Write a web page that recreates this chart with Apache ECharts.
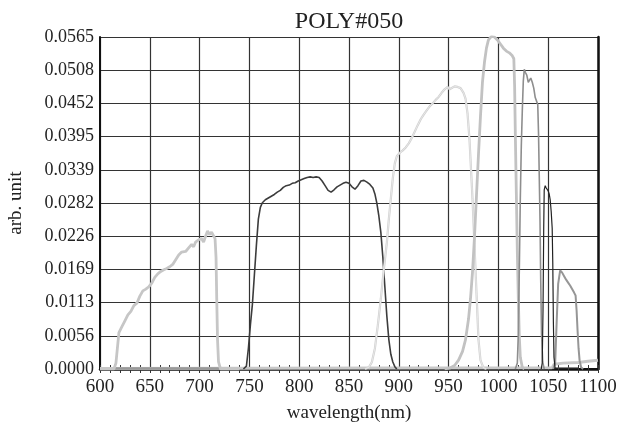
<!DOCTYPE html>
<html>
<head>
<meta charset="utf-8">
<script src="https://cdn.jsdelivr.net/npm/echarts@6/dist/echarts.min.js"></script>
<style>
  html, body { margin: 0; padding: 0; background: #fff; }
  #chart { width: 617px; height: 424px; }
</style>
</head>
<body>
<div id="chart"></div>
<script>
// wavelength (nm) / arb. unit pairs
var filter620 = [[600,0],[614,0],[616,0.001],[618,0.0045],[619,0.0062],[622,0.0072],[625,0.0082],[628,0.0092],[631,0.0098],[634,0.0108],[637,0.0112],[640,0.0124],[643,0.0133],[646,0.0136],[649,0.0140],[652,0.0146],[655,0.0156],[658,0.0162],[661,0.0166],[664,0.0169],[667,0.0171],[670,0.0174],[673,0.0178],[676,0.0186],[679,0.0194],[682,0.0199],[684,0.0196],[686,0.0200],[689,0.0206],[692,0.0212],[694,0.0208],[696,0.0216],[699,0.0220],[702,0.0222],[704,0.0216],[706,0.0226],[708,0.0235],[710,0.0229],[712,0.0233],[714,0.0230],[715.5,0.0222],[716.5,0.0190],[717.2,0.0120],[718,0.0050],[719,0.0012],[721,0],[740,0]]
var filter750 = [[744,0],[747,0.0005],[749,0.0035],[751,0.0075],[753,0.0110],[755,0.0160],[757,0.0210],[759,0.0255],[761,0.0275],[763,0.0283],[766,0.0288],[769,0.0291],[772,0.0294],[775,0.0297],[778,0.0301],[781,0.0304],[784,0.0309],[787,0.0312],[790,0.0313],[793,0.0316],[796,0.0317],[799,0.0320],[802,0.0322],[805,0.0324],[808,0.0326],[811,0.0327],[814,0.0326],[817,0.0327],[820,0.0326],[823,0.0320],[826,0.0312],[829,0.0304],[832,0.0301],[835,0.0305],[838,0.0310],[841,0.0313],[844,0.0316],[847,0.0318],[850,0.0316],[853,0.0310],[856,0.0306],[859,0.0312],[862,0.0320],[865,0.0321],[868,0.0318],[871,0.0314],[874,0.0308],[876,0.0298],[878,0.0282],[880,0.0260],[882,0.0232],[884,0.0190],[886,0.0140],[888,0.0090],[890,0.0050],[892,0.0025],[894,0.0012],[896,0.0004],[898,0]]
var filter880 = [[866,0],[870,0.0003],[873,0.0012],[876,0.0035],[879,0.0075],[882,0.0120],[885,0.0170],[888,0.0215],[890,0.0255],[892,0.0290],[894,0.0325],[896,0.0350],[898,0.0362],[901,0.0368],[904,0.0372],[907,0.0377],[910,0.0384],[913,0.0393],[916,0.0404],[919,0.0415],[922,0.0425],[925,0.0433],[928,0.0440],[931,0.0447],[934,0.0452],[937,0.0458],[940,0.0463],[943,0.0470],[946,0.0476],[949,0.0480],[951,0.0476],[953,0.0479],[956,0.0481],[959,0.0480],[962,0.0478],[965,0.0470],[967,0.0460],[969,0.0435],[971,0.0390],[972.5,0.0340],[974,0.0290],[975.5,0.0230],[977,0.0170],[978.5,0.0110],[980,0.0050],[982,0.0015],[985,0.0002],[988,0]]
var filter990 = [[946,0],[952,0.0002],[956,0.0006],[960,0.0015],[964,0.0030],[967,0.0050],[970,0.0085],[972,0.0120],[974,0.0165],[976,0.0225],[978,0.0295],[980,0.0365],[982,0.0430],[984,0.0488],[986,0.0522],[988,0.0546],[990,0.0560],[993,0.0566],[996,0.0565],[999,0.0560],[1002,0.0553],[1005,0.0546],[1008,0.0541],[1011,0.0538],[1014,0.0533],[1015.5,0.0528],[1016.3,0.0480],[1017,0.0400],[1018,0.0300],[1019,0.0200],[1020,0.0120],[1021,0.0055],[1022,0.0020],[1024,0.0003],[1026,0]]
var filter1030 = [[1017,0],[1019,0.0010],[1020,0.0060],[1021,0.0170],[1022,0.0290],[1023,0.0380],[1024,0.0440],[1025,0.0490],[1026,0.0510],[1027,0.0505],[1028.5,0.0500],[1030,0.0488],[1031,0.0490],[1032.5,0.0495],[1034,0.0488],[1035.5,0.0478],[1037,0.0462],[1038.5,0.0455],[1039.5,0.0450],[1040.3,0.0400],[1041,0.0330],[1041.8,0.0250],[1042.5,0.0150],[1043.3,0.0060],[1044.5,0.0012],[1046,0]]
var filter1050 = [[1043,0],[1044,0.0010],[1044.8,0.0100],[1045.5,0.0240],[1046,0.0305],[1047,0.0312],[1048,0.0308],[1049,0.0310],[1050,0.0303],[1051,0.0298],[1052,0.0288],[1053,0.0268],[1054,0.0240],[1054.6,0.0180],[1055.2,0.0080],[1055.8,0.0020],[1057,0]]
var filter1065 = [[1055,0],[1057,0.0010],[1058.5,0.0080],[1060,0.0145],[1062,0.0168],[1064,0.0164],[1066,0.0158],[1068,0.0152],[1070,0.0147],[1072,0.0142],[1074,0.0136],[1076,0.0130],[1077.5,0.0125],[1078.5,0.0100],[1079.5,0.0065],[1080.5,0.0035],[1081.5,0.0015],[1083,0.0003],[1085,0]]
var baseLight = [[600,0.0001],[1054,0.0002],[1056,0.0008],[1065,0.0010],[1080,0.0011],[1090,0.0013],[1100,0.0015]]
var baseMid = [[615,0.0001],[720,0.0001]]
var baseDark = [[1055,0.0002],[1080,0.0002]]

var yTickLabels = ['0.0000','0.0056','0.0113','0.0169','0.0226','0.0282','0.0339','0.0395','0.0452','0.0508','0.0565']
var yStep = 0.00565

var serif = 'Liberation Serif'
var chart = echarts.init(document.getElementById('chart'))

function curve (data, color, width, z) {
  return {
    type: 'line',
    data: data,
    showSymbol: false,
    silent: true,
    z: z || 2,
    lineStyle: { color: color, width: width }
  }
}

chart.setOption({
  animation: false,
  backgroundColor: '#fff',
  title: {
    text: 'POLY#050',
    left: 344,
    textAlign: 'center',
    top: 5,
    textStyle: { fontFamily: serif, fontSize: 24, fontWeight: 'normal', color: '#222' }
  },
  grid: { left: 100, right: 19, top: 37, bottom: 55, outerBoundsMode: 'none' },
  xAxis: [
    {
      type: 'value',
      min: 600,
      max: 1100,
      interval: 50,
      name: 'wavelength(nm)',
      nameLocation: 'middle',
      nameGap: 35,
      nameTextStyle: { fontFamily: serif, fontSize: 19, color: '#222' },
      axisLine: { show: true, lineStyle: { color: '#111', width: 2 } },
      axisTick: { show: true, inside: true, length: 4, lineStyle: { color: '#333' } },
      minorTick: { show: true, splitNumber: 5, length: 4, lineStyle: { color: '#333', width: 1 } },
      axisLabel: {
        fontFamily: serif, fontSize: 19, color: '#222', margin: 9,
        formatter: function (v) { return String(v) }
      },
      splitLine: { show: true, lineStyle: { color: '#333', width: 1.2 } }
    },
    {
      type: 'value',
      position: 'top',
      min: 600,
      max: 1100,
      interval: 50,
      axisLine: { show: true, lineStyle: { color: '#111', width: 2.5 } },
      axisTick: { show: true, inside: true, length: 4, lineStyle: { color: '#333' } },
      minorTick: { show: true, splitNumber: 5, length: 4, lineStyle: { color: '#333', width: 1 } },
      axisLabel: { show: false },
      splitLine: { show: false }
    }
  ],
  yAxis: [
    {
      type: 'value',
      min: 0,
      max: 0.0565,
      interval: yStep,
      name: 'arb. unit',
      nameLocation: 'middle',
      nameGap: 74,
      nameTextStyle: { fontFamily: serif, fontSize: 19, color: '#222' },
      axisLine: { show: true, lineStyle: { color: '#111', width: 2 } },
      axisTick: { show: false },
      axisLabel: {
        fontFamily: serif,
        fontSize: 18,
        color: '#222',
        margin: 6,
        formatter: function (v) { return yTickLabels[Math.round(v / yStep)] }
      },
      splitLine: { show: true, lineStyle: { color: '#333', width: 1.2 } }
    },
    {
      type: 'value',
      position: 'right',
      min: 0,
      max: 0.0565,
      interval: yStep,
      axisLine: { show: true, lineStyle: { color: '#111', width: 2.5 } },
      axisTick: { show: false },
      axisLabel: { show: false },
      splitLine: { show: false }
    }
  ],
  series: [
    curve(baseMid, '#999', 2.5, 3),
    curve(baseDark, '#555', 1, 3),
    curve(filter620, '#c6c6c6', 2.8, 4),
    curve(filter750, '#3c3c3c', 1.6, 4),
    curve(filter880, '#d0d0d0', 2.2, 4),
    curve(filter880, '#f0f0f0', 0.7, 4),
    curve(filter990, '#c2c2c2', 2.8, 4),
    curve(filter1030, '#8e8e8e', 1.6, 5),
    curve(filter1050, '#222', 1.2, 5),
    curve(filter1065, '#969696', 2, 4),
    curve(baseLight, '#c8c8c8', 3, 2)
  ]
})
</script>
</body>
</html>
